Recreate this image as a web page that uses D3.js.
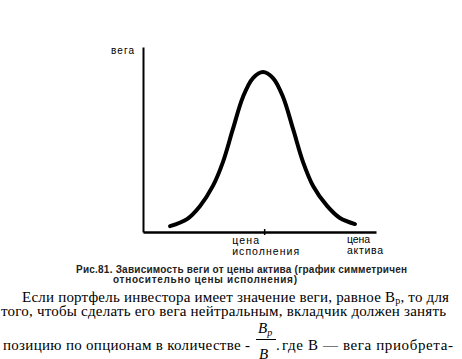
<!DOCTYPE html>
<html><head><meta charset="utf-8">
<script src="https://cdn.jsdelivr.net/npm/d3@7/dist/d3.min.js"></script>
<style>
body{margin:0;background:#fff;}
svg{display:block;}
</style></head>
<body>
<script>
// Data
const assetPrice = [11.6, 18.9, 24.5, 30.0, 34.3, 38.6, 42.9, 47.2, 51.5, 55.8, 60.1, 64.4, 68.7, 73.0, 79.0, 84.5, 91.0];
const vegaValues = [0.032, 0.070, 0.141, 0.249, 0.378, 0.557, 0.730, 0.832, 0.865, 0.832, 0.730, 0.557, 0.378, 0.249, 0.141, 0.076, 0.043];
const strikePrice = 52;
const yAxisLabel = "вега";
const strikeLabel = ["цена", "исполнения"];
const assetLabel = ["цена", "актива"];
const captionLines = ["Рис.81. Зависимость веги от цены актива (график симметричен", "относительно цены исполнения)"];

const W = 462, H = 359;
const svg = d3.select("body").append("svg").attr("width", W).attr("height", H);
svg.append("rect").attr("width", W).attr("height", H).attr("fill", "#fff");

const x = d3.scaleLinear().domain([0, 100]).range([143, 376]);
const y = d3.scaleLinear().domain([0, 1]).range([232, 47]);

// axes
const gx = svg.append("g").attr("transform", `translate(0,${y(0)})`)
  .call(d3.axisBottom(x).tickValues([strikePrice]).tickFormat("").tickSizeInner(3).tickSizeOuter(0));
gx.select(".domain").attr("stroke", "#000").attr("stroke-width", 2.5);
gx.selectAll(".tick line").attr("stroke", "#000").attr("stroke-width", 1.5).attr("y1", -3).attr("y2", 3);

const gy = svg.append("g").attr("transform", `translate(${x(0)},0)`)
  .call(d3.axisLeft(y).tickValues([]).tickSizeOuter(0));
gy.select(".domain").attr("stroke", "#000").attr("stroke-width", 2);

// curve
const ln = d3.line().x((d, i) => x(assetPrice[i])).y(d => y(d)).curve(d3.curveCatmullRom.alpha(0.5));
svg.append("path").datum(vegaValues).attr("d", ln)
  .attr("fill", "none").attr("stroke", "#000").attr("stroke-width", 4).attr("stroke-linecap", "round");

const sans = "Liberation Sans, Arial, sans-serif";
svg.append("text").attr("x", 111).attr("y", 54).attr("font-family", sans).attr("font-size", 10)
  .attr("textLength", 23).text(yAxisLabel);

svg.append("text").attr("x", x(strikePrice) - 32).attr("y", 244).attr("font-family", sans).attr("font-size", 10.5)
  .attr("textLength", 27).text(strikeLabel[0]);
svg.append("text").attr("x", x(strikePrice) - 32).attr("y", 255).attr("font-family", sans).attr("font-size", 10.5)
  .attr("textLength", 67).text(strikeLabel[1]);
svg.append("text").attr("x", 347).attr("y", 243).attr("font-family", sans).attr("font-size", 10.5)
  .attr("textLength", 23).text(assetLabel[0]);
svg.append("text").attr("x", 347).attr("y", 254).attr("font-family", sans).attr("font-size", 10.5)
  .attr("textLength", 36).text(assetLabel[1]);

// caption
svg.append("text").attr("x", 76).attr("y", 273).attr("font-family", sans).attr("font-size", 10)
  .attr("font-weight", "bold").attr("fill", "#222").attr("textLength", 331).text(captionLines[0]);
svg.append("text").attr("x", 113).attr("y", 283).attr("font-family", sans).attr("font-size", 10)
  .attr("font-weight", "bold").attr("fill", "#222").attr("textLength", 184).text(captionLines[1]);

// body text
const serif = "Liberation Serif, Times New Roman, serif";
const fs = 15;
const t1 = svg.append("text").attr("x", 22).attr("y", 302).attr("font-family", serif).attr("font-size", fs)
  .attr("textLength", 427);
t1.append("tspan").text("Если портфель инвестора имеет значение веги, равное B");
t1.append("tspan").attr("font-size", 10).attr("dy", 2).text("p");
t1.append("tspan").attr("dy", -2).text(", то для");

svg.append("text").attr("x", 1).attr("y", 316).attr("font-family", serif).attr("font-size", fs)
  .attr("textLength", 445).text("того, чтобы сделать его вега нейтральным, вкладчик должен занять");

svg.append("text").attr("x", 3).attr("y", 350).attr("font-family", serif).attr("font-size", fs)
  .attr("textLength", 247).text("позицию по опционам в количестве -");
const num = svg.append("text").attr("x", 258).attr("y", 333).attr("font-family", serif).attr("font-size", fs)
  .attr("font-style", "italic");
num.append("tspan").text("B");
num.append("tspan").attr("font-size", 10).attr("dy", 3).text("p");
svg.append("line").attr("x1", 256).attr("x2", 276).attr("y1", 339.5).attr("y2", 339.5).attr("stroke", "#000").attr("stroke-width", 1);
svg.append("text").attr("x", 259).attr("y", 359).attr("font-family", serif).attr("font-size", fs)
  .attr("font-style", "italic").text("B");
svg.append("text").attr("x", 276).attr("y", 350).attr("font-family", serif).attr("font-size", fs).text(".");
svg.append("text").attr("x", 282).attr("y", 350).attr("font-family", serif).attr("font-size", fs)
  .attr("textLength", 171).text("где В — вега приобрета-");
</script>
</body></html>
